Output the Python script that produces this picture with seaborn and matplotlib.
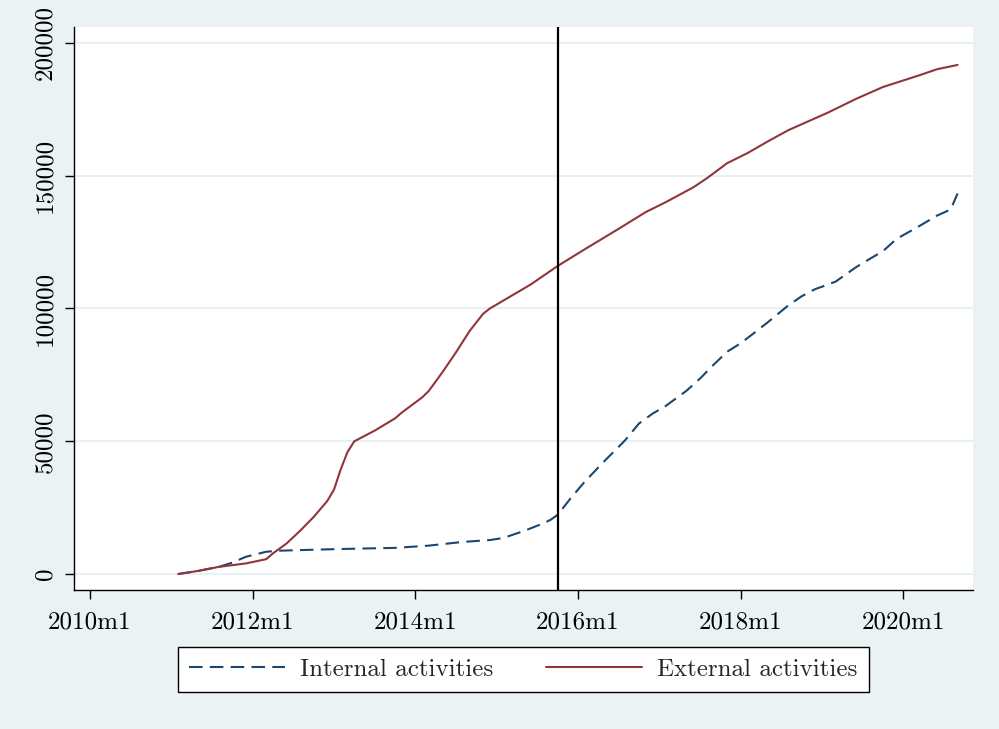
import matplotlib
matplotlib.use("Agg")
import matplotlib.pyplot as plt
import seaborn as sns
import pandas as pd

# Months counted from 2010m1 (0 = 2010m1)
ext_month = [13, 16, 19, 23, 26, 27, 29, 31, 33, 35, 36, 37, 38, 39, 42, 45, 46,
             49, 50, 52, 54, 56, 58, 59, 61, 65, 69, 73, 78, 82, 85, 89, 91, 94,
             97, 100, 103, 109, 113, 117, 122, 125, 128]
ext_value = [0, 1200, 2700, 4000, 5600, 7800, 11500, 16300, 21500, 27500, 31800,
             39500, 46000, 50000, 54000, 58600, 60800, 66500, 69000, 76000, 83500,
             91500, 98000, 100000, 103000, 109000, 116000, 122300, 130000, 136300,
             140100, 145600, 149000, 154700, 158500, 162900, 167100, 173900,
             178900, 183400, 187500, 190100, 191700]

int_month = [13, 16, 19, 21, 23, 26, 28, 35, 40, 45, 50, 55, 59, 61, 64, 67, 68,
             69, 71, 73, 76, 78, 79, 81, 83, 85, 88, 90, 92, 94, 96, 98, 100, 103,
             105, 107, 108, 110, 113, 115, 117, 119, 122, 125, 127, 128]
int_value = [0, 1200, 2700, 4300, 6500, 8400, 8800, 9300, 9600, 9850, 10700,
             12100, 12800, 13600, 16200, 19200, 20500, 22300, 28800, 34800, 42800,
             47900, 50500, 56700, 60400, 63400, 69000, 73600, 78800, 83700, 86900,
             90800, 94800, 101100, 104600, 107300, 108200, 110100, 115500, 118600,
             121600, 126200, 130500, 135000, 137300, 143300]

event_month = 69  # 2015m10
x_ticks = [0, 24, 48, 72, 96, 120]
x_labels = ["2010m1", "2012m1", "2014m1", "2016m1", "2018m1", "2020m1"]
y_ticks = [0, 50000, 100000, 150000, 200000]
y_labels = ["0", "50000", "100000", "150000", "200000"]

series_names = ["Internal activities", "External activities"]
series_colors = ["#1A476F", "#90353B"]

sns.set_theme(style="white")
plt.rcParams["font.family"] = ["cmr10", "DejaVu Serif"]
plt.rcParams["mathtext.fontset"] = "cm"
plt.rcParams["axes.unicode_minus"] = False
plt.rcParams["axes.formatter.use_mathtext"] = True

BG = "#EAF2F3"
fig = plt.figure(figsize=(9.99, 7.29), dpi=100, facecolor=BG)
ax = fig.add_axes([0.0741, 0.1907, 0.9, 0.7723])
ax.set_facecolor("white")

df_int = pd.DataFrame({"month": int_month, "value": int_value})
df_ext = pd.DataFrame({"month": ext_month, "value": ext_value})

sns.lineplot(data=df_int, x="month", y="value", ax=ax, color=series_colors[0],
             lw=1.5, dashes=False, label=series_names[0], zorder=3)
sns.lineplot(data=df_ext, x="month", y="value", ax=ax, color=series_colors[1],
             lw=1.5, label=series_names[1], zorder=3)
ax.lines[0].set_dashes((6.5, 3.5))

ax.axvline(event_month, color="black", lw=1.6, zorder=4)

ax.set_xlim(-2.36, 130.3)
ax.set_ylim(-6000, 206000)
ax.set_xticks(x_ticks)
ax.set_xticklabels(x_labels, fontsize=18)
ax.set_yticks(y_ticks)
ax.set_yticklabels(y_labels, fontsize=18, rotation=90, va="center")
ax.set_xlabel("")
ax.set_ylabel("")

ax.yaxis.grid(True, color="#E6EFF1", lw=1.3, zorder=0)
ax.xaxis.grid(False)
for side in ["top", "right"]:
    ax.spines[side].set_visible(False)
for side in ["left", "bottom"]:
    ax.spines[side].set_color("black")
    ax.spines[side].set_linewidth(1.0)
ax.tick_params(axis="both", which="major", direction="out", length=6.5,
               width=1.0, color="black", labelcolor="black", pad=6,
               left=True, bottom=True)
ax.tick_params(axis="x", pad=9)

ax.get_legend().remove()
handles, labels = ax.get_legend_handles_labels()
leg = fig.legend(handles, labels, loc="center", bbox_to_anchor=(0.524, 0.081),
                 ncol=2, frameon=True, fancybox=False, fontsize=18,
                 handlelength=3.85, handletextpad=0.6, columnspacing=2.1,
                 borderpad=0.45, edgecolor="black", facecolor="white",
                 framealpha=1.0)
leg.get_frame().set_linewidth(1.0)

fig.savefig("out.png", dpi=100, facecolor=BG)
